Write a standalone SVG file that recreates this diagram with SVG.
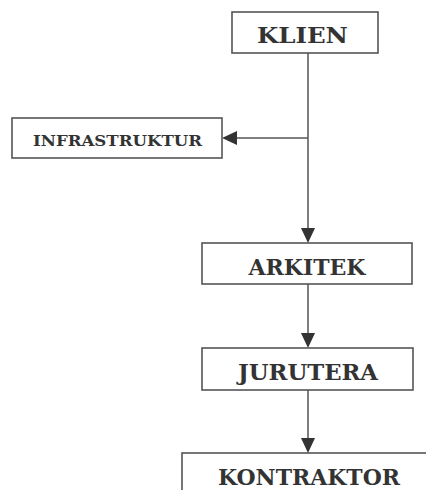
<svg xmlns="http://www.w3.org/2000/svg" width="426" height="490" viewBox="0 0 426 490">
<style>
.box{fill:#fff;stroke:#555;stroke-width:1.6}
.t{font-family:"DejaVu Serif","Liberation Serif",serif;font-weight:bold;fill:#333;text-anchor:middle}
.big{font-size:23px}
.small{font-size:15.5px}
.ln{stroke:#555;stroke-width:1.5;fill:none}
.ah{fill:#333}
</style>
<rect width="426" height="490" fill="#fff"/>
<g id="connectors">
<line class="ln" x1="308" y1="53" x2="308" y2="229"/>
<polygon class="ah" points="301,228 315,228 308,243"/>
<line class="ln" x1="308" y1="138" x2="236" y2="138"/>
<polygon class="ah" points="237,131 237,145 222,138"/>
<line class="ln" x1="308" y1="284" x2="308" y2="334"/>
<polygon class="ah" points="301,333 315,333 308,348"/>
<line class="ln" x1="308" y1="390" x2="308" y2="439"/>
<polygon class="ah" points="301,438 315,438 308,453"/>
</g>
<g id="klien">
<rect class="box" x="232" y="12" width="146" height="41"/>
<text class="t big" x="302.5" y="43" textLength="91" lengthAdjust="spacingAndGlyphs">KLIEN</text>
</g>
<g id="infrastruktur">
<rect class="box" x="12" y="118" width="210" height="40"/>
<text class="t small" x="117.5" y="146" textLength="169" lengthAdjust="spacingAndGlyphs">INFRASTRUKTUR</text>
</g>
<g id="arkitek">
<rect class="box" x="202" y="243" width="210" height="41"/>
<text class="t big" x="307" y="275" textLength="117" lengthAdjust="spacingAndGlyphs">ARKITEK</text>
</g>
<g id="jurutera">
<rect class="box" x="202" y="348" width="211" height="42"/>
<text class="t big" x="308" y="380" textLength="140" lengthAdjust="spacingAndGlyphs">JURUTERA</text>
</g>
<g id="kontraktor">
<rect class="box" x="182" y="453" width="260" height="60"/>
<text class="t big" x="309" y="485" textLength="182" lengthAdjust="spacingAndGlyphs">KONTRAKTOR</text>
</g>
</svg>
